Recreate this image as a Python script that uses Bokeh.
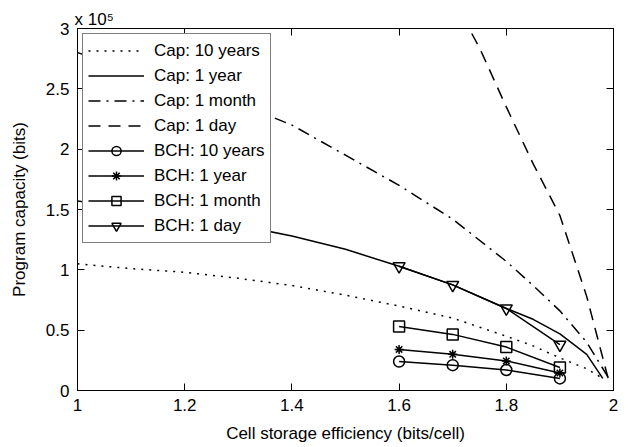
from bokeh.plotting import figure
from bokeh.models import (Legend, LegendItem, LinearAxis, FixedTicker,
                          CustomJSTickFormatter, Range1d, Title)
from bokeh.embed import file_html
from bokeh.resources import INLINE

# ---- data (program capacity in units of 1e5 bits) ----
x_cap = [1.0, 1.1, 1.2, 1.3, 1.4, 1.5, 1.6, 1.7, 1.8, 1.85, 1.9, 1.95, 1.98]
cap_10y = [1.05, 1.01, 0.98, 0.93, 0.87, 0.79, 0.70, 0.60, 0.45, 0.37, 0.27, 0.18, 0.10]
cap_1y = [1.57, 1.51, 1.44, 1.37, 1.28, 1.17, 1.03, 0.875, 0.68, 0.59, 0.47, 0.30, 0.10]
x_cap_1m = [1.0, 1.1, 1.2, 1.3, 1.4, 1.5, 1.6, 1.7, 1.8, 1.85, 1.9, 1.95, 1.99]
cap_1m = [2.80, 2.66, 2.52, 2.38, 2.20, 1.95, 1.70, 1.42, 1.07, 0.87, 0.66, 0.40, 0.11]
x_cap_1d = [1.7, 1.75, 1.8, 1.85, 1.9, 1.95, 1.99]
cap_1d = [3.25, 2.84, 2.35, 1.88, 1.45, 0.78, 0.10]

x_bch = [1.6, 1.7, 1.8, 1.9]
bch_10y = [0.24, 0.21, 0.17, 0.10]
bch_1y = [0.34, 0.30, 0.245, 0.145]
bch_1m = [0.53, 0.465, 0.36, 0.19]
bch_1d = [1.03, 0.875, 0.68, 0.38]

x_ticks = [1, 1.2, 1.4, 1.6, 1.8, 2]
y_ticks = [0, 0.5, 1, 1.5, 2, 2.5, 3]

FONT = "Liberation Sans"
FS = "17px"
FS_TICK = "17px"
FS_LABEL = "17px"

p = figure(width=631, height=447, output_backend="svg", toolbar_location=None,
           x_range=Range1d(1, 2), y_range=Range1d(0, 3),
           min_border_left=77, min_border_right=18, min_border_top=28,
           min_border_bottom=57)
p.xgrid.visible = False
p.ygrid.visible = False
p.outline_line_color = "black"
p.outline_line_width = 1
p.background_fill_color = "white"
p.border_fill_color = "white"

fmt = CustomJSTickFormatter(code="return String(Number(tick.toFixed(2)));")
blank = CustomJSTickFormatter(code="return '';")

for ax in (p.xaxis[0], p.yaxis[0]):
    ax.major_tick_in = 7
    ax.major_tick_out = 0
    ax.minor_tick_in = 0
    ax.minor_tick_out = 0
    ax.axis_line_color = "black"
    ax.major_tick_line_color = "black"
    ax.major_label_text_font = FONT
    ax.major_label_text_font_size = FS_TICK
    ax.major_label_text_color = "black"
    ax.axis_label_text_font = FONT
    ax.axis_label_text_font_size = FS_LABEL
    ax.axis_label_text_font_style = "normal"
    ax.axis_label_text_color = "black"
    ax.formatter = fmt
    ax.major_label_standoff = 8

p.xaxis[0].ticker = FixedTicker(ticks=x_ticks)
p.yaxis[0].ticker = FixedTicker(ticks=y_ticks)
p.xaxis[0].axis_label = "Cell storage efficiency (bits/cell)"
p.yaxis[0].axis_label = "Program capacity (bits)"
p.xaxis[0].axis_label_standoff = 10
p.yaxis[0].axis_label_standoff = 14

for loc, ticks in (("above", x_ticks), ("right", y_ticks)):
    a = LinearAxis(ticker=FixedTicker(ticks=ticks), formatter=blank)
    a.major_tick_in = 7
    a.major_tick_out = 0
    a.minor_tick_in = 0
    a.minor_tick_out = 0
    a.major_label_text_font_size = "1px"
    a.major_label_standoff = 0
    a.axis_line_color = "black"
    a.major_tick_line_color = "black"
    p.add_layout(a, loc)

p.add_layout(Title(text="x 10\u2075", align="left", offset=-3, standoff=0,
                   text_font=FONT, text_font_size=FS, text_font_style="normal",
                   text_color="black"), "above")

LW = 1.5
r_c10 = p.line(x_cap, cap_10y, line_color="black", line_width=LW, line_dash="2 6")
r_c1y = p.line(x_cap, cap_1y, line_color="black", line_width=LW)
r_c1m = p.line(x_cap_1m, cap_1m, line_color="black", line_width=LW, line_dash="12 6 2 6")
r_c1d = p.line(x_cap_1d, cap_1d, line_color="black", line_width=LW, line_dash="12 8")

def bch(y, marker, size):
    l = p.line(x_bch, y, line_color="black", line_width=LW)
    s = p.scatter(x_bch, y, marker=marker, size=size, line_color="black",
                  line_width=LW, fill_color=None)
    return [l, s]

r_b10 = bch(bch_10y, "circle", 11)
r_b1y = bch(bch_1y, "asterisk", 9)
r_b1m = bch(bch_1m, "square", 11)
r_b1d = bch(bch_1d, "inverted_triangle", 12)

items = [
    LegendItem(label="Cap: 10 years", renderers=[r_c10]),
    LegendItem(label="Cap: 1 year", renderers=[r_c1y]),
    LegendItem(label="Cap: 1 month", renderers=[r_c1m]),
    LegendItem(label="Cap: 1 day", renderers=[r_c1d]),
    LegendItem(label="BCH: 10 years", renderers=r_b10),
    LegendItem(label="BCH: 1 year", renderers=r_b1y),
    LegendItem(label="BCH: 1 month", renderers=r_b1m),
    LegendItem(label="BCH: 1 day", renderers=r_b1d),
]
legend = Legend(items=items, location="top_left", margin=5, padding=5,
                spacing=2, glyph_width=56, glyph_height=23, label_height=23,
                label_standoff=10, label_text_font=FONT, label_text_font_size=FS,
                label_text_color="black", border_line_color="black",
                border_line_width=1, background_fill_color="white",
                background_fill_alpha=1.0)
p.add_layout(legend, "center")

open("out.html", "w").write(file_html(p, INLINE))
